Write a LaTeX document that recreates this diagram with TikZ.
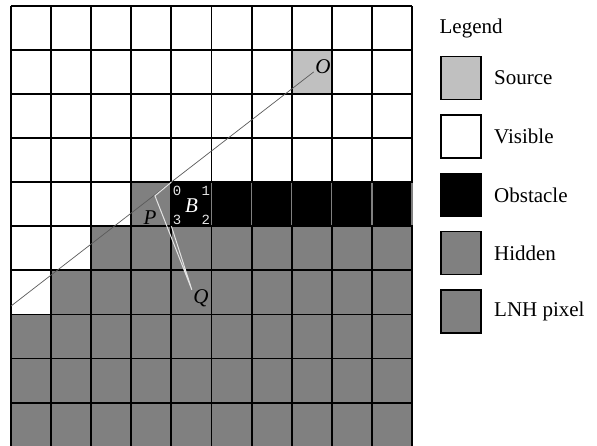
\documentclass[tikz,border=0pt]{standalone}
\usepackage{fontspec}
\setmainfont{Liberation Serif}
\setmonofont{Liberation Mono}
\usetikzlibrary{positioning}
\definecolor{HiddenGray}{HTML}{808080}
\definecolor{SourceGray}{HTML}{C0C0C0}
\definecolor{RayGray}{HTML}{5A5A5A}
\definecolor{DistWhite}{HTML}{E4E4E4}
\tikzset{
  gridline/.style={line width=1.8pt,black},
  keybox/.style={rectangle,draw=black,line width=1.4pt,fill=#1,
                 minimum width=40pt,minimum height=43pt,inner sep=0pt},
  keytxt/.style={anchor=west,font=\fontsize{21}{24}\selectfont},
  ptlbl/.style={font=\fontsize{21}{24}\selectfont\itshape,inner sep=1pt},
  idx/.style={font=\fontsize{14}{16}\selectfont\ttfamily,text=DistWhite,inner sep=0pt},
  ray/.style={RayGray,line width=0.7pt},
  dist/.style={DistWhite,line width=1pt},
}

\begin{document}
\begin{tikzpicture}[x=40.1pt,y=44.1pt]

  \useasboundingbox (-0.274,0.02) rectangle (14.613,10.13);

  % cell states
  \fill[HiddenGray] (0,0) rectangle (10,3);
  \fill[HiddenGray] (1,3) rectangle (10,4);
  \fill[HiddenGray] (2,4) rectangle (10,5);
  \fill[HiddenGray] (3,5) rectangle (4,6);
  \fill[black] (4,5) rectangle (10,6);
  \fill[SourceGray] (7,8) rectangle (8,9);

  % grid
  \foreach \i in {0,...,10}{
    \draw[gridline] (\i,0) -- (\i,10);
    \draw[gridline] (0,\i) -- (10,\i);
  }
  \foreach \i in {5,...,10}
    \draw[HiddenGray,line width=1.2pt] (\i,5.03) -- (\i,5.97);

  % ray from the source
  \coordinate (E) at (0,3.19);
  \coordinate (O) at (7.55,8.5);
  \draw[ray] (E) -- (O);

  % distances to the obstacle corner
  \coordinate (c0) at (4,6);
  \coordinate (c3) at (4,5);
  \coordinate (P) at (3.59,5.69);
  \coordinate (Q) at (4.51,3.56);
  \draw[dist] (c0) -- (P) -- (Q) -- (c3);

  \node[ptlbl] (Olbl) at (7.78,8.63) {O};
  \node[ptlbl,text=white] (Blbl) at (4.5,5.47) {B};
  \node[ptlbl] (Plbl) at (3.47,5.19) {P};
  \node[ptlbl] (Qlbl) at (4.74,3.36) {Q};

  \node[idx] (k0) at (4.14,5.80) {0};
  \node[idx] (k1) at (4.86,5.80) {1};
  \node[idx] (k2) at (4.86,5.15) {2};
  \node[idx] (k3) at (4.14,5.15) {3};

  % legend
  \node[keytxt] (title) at (10.6,9.48) {Legend};
  \node[keybox=SourceGray] (kSrc) at (11.22,8.36) {};
  \node[keytxt,right=9pt of kSrc] (tSrc) {Source};
  \node[keybox=white,below=14pt of kSrc] (kVis) {};
  \node[keytxt,right=9pt of kVis] (tVis) {Visible};
  \node[keybox=black,below=14pt of kVis] (kObs) {};
  \node[keytxt,right=9pt of kObs] (tObs) {Obstacle};
  \node[keybox=HiddenGray,below=14pt of kObs] (kHid) {};
  \node[keytxt,right=9pt of kHid] (tHid) {Hidden};
  \node[keybox=HiddenGray,below=14pt of kHid] (kLnh) {};
  \node[keytxt,right=9pt of kLnh] (tLnh) {LNH pixel};

\end{tikzpicture}
\end{document}
